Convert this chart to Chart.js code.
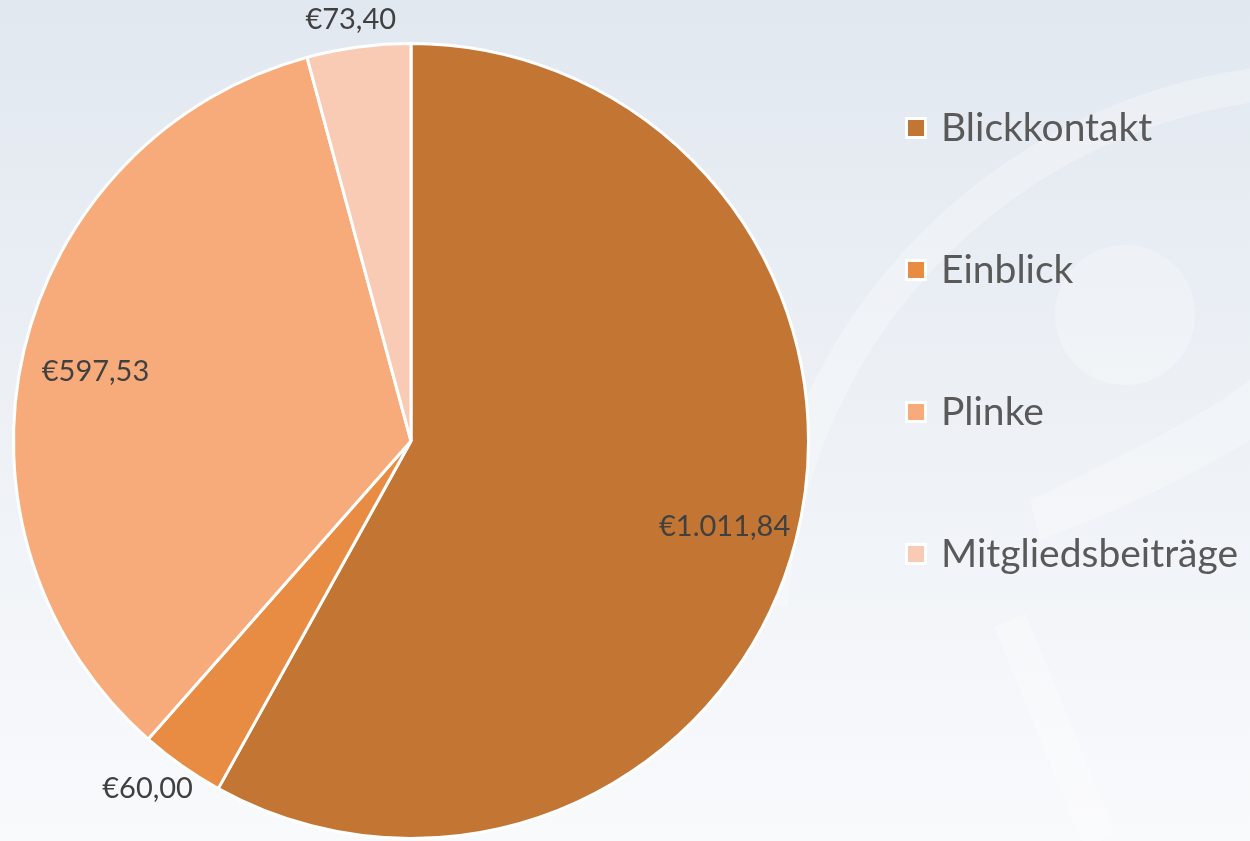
<!DOCTYPE html>
<html><head><meta charset="utf-8">
<script src="https://cdn.jsdelivr.net/npm/chart.js@4.4.1/dist/chart.umd.min.js"></script>
<style>html,body{margin:0;padding:0;background:#fff}#wrap{width:1250px;height:841px;position:relative}canvas{display:block}</style>
</head><body><div id="wrap"><canvas id="c" width="1250" height="841"></canvas></div>
<script>
const categories = ["Blickkontakt", "Einblick", "Plinke", "Mitgliedsbeiträge"];
const amounts = [1011.84, 60.00, 597.53, 73.40];
const valueLabels = ["€1.011,84", "€60,00", "€597,53", "€73,40"];
const sliceColors = ["#C37534", "#E88C43", "#F8AB7A", "#F9CAB4"];
const labelInside = [true, false, true, false];

const bgPlugin = {
  id: 'bg',
  beforeDraw(chart) {
    const ctx = chart.ctx, W = chart.width, H = chart.height;
    ctx.save();
    const g = ctx.createLinearGradient(0, 0, 0, H);
    g.addColorStop(0, '#E2E8F0');
    g.addColorStop(0.5, '#EDF1F6');
    g.addColorStop(1, '#F9FAFC');
    ctx.fillStyle = g;
    ctx.fillRect(0, 0, W, H);
    // faint watermark shapes
    ctx.strokeStyle = 'rgba(255,255,255,0.28)';
    ctx.lineWidth = 34;
    ctx.beginPath();
    ctx.arc(1330, 640, 560, Math.PI * 1.02, Math.PI * 1.62);
    ctx.stroke();
    ctx.beginPath();
    ctx.moveTo(1010, 620); ctx.lineTo(1100, 841);
    ctx.stroke();
    ctx.fillStyle = 'rgba(255,255,255,0.25)';
    ctx.beginPath();
    ctx.arc(1125, 315, 70, 0, Math.PI * 2);
    ctx.fill();
    ctx.beginPath();
    ctx.moveTo(1030, 500); ctx.quadraticCurveTo(1200, 420, 1250, 380);
    ctx.lineTo(1250, 440); ctx.quadraticCurveTo(1150, 500, 1040, 540);
    ctx.closePath(); ctx.fill();
    ctx.restore();
  }
};

const labelPlugin = {
  id: 'labels',
  afterDatasetsDraw(chart) {
    const ctx = chart.ctx;
    const meta = chart.getDatasetMeta(0);
    ctx.save();
    ctx.font = '29px Lato';
    ctx.fillStyle = '#404040';
    ctx.textAlign = 'center';
    ctx.textBaseline = 'middle';
    meta.data.forEach((arc, i) => {
      const p = arc.getProps(['x', 'y', 'startAngle', 'endAngle', 'outerRadius'], true);
      const mid = (p.startAngle + p.endAngle) / 2;
      const dx = Math.cos(mid), dy = Math.sin(mid);
      const txt = valueLabels[i];
      let x, y;
      if (labelInside[i]) {
        x = p.x + dx * p.outerRadius * 0.815;
        y = p.y + dy * p.outerRadius * 0.815 + 4;
      } else {
        const w = ctx.measureText(txt).width, h = 28;
        const r = p.outerRadius + 14;
        x = p.x + dx * r + dx * w / 2;
        y = p.y + dy * r + dy * h / 2;
      }
      ctx.fillText(txt, x, y);
    });
    ctx.restore();
  }
};

const legendPlugin = {
  id: 'customLegend',
  afterDraw(chart) {
    const ctx = chart.ctx, a = chart.chartArea;
    const x0 = a.right + 96;
    const step = 142;
    const cy = (a.top + a.bottom) / 2 - 101;
    const y0 = cy - step * (categories.length - 1) / 2;
    ctx.save();
    ctx.font = '39px Lato';
    ctx.textBaseline = 'middle';
    ctx.textAlign = 'left';
    categories.forEach((c, i) => {
      const y = y0 + i * step;
      ctx.fillStyle = '#FFFFFF';
      ctx.fillRect(x0 - 1, y - 10, 22, 22);
      ctx.fillStyle = sliceColors[i];
      ctx.fillRect(x0 + 2, y - 7, 16, 16);
      ctx.fillStyle = '#595959';
      ctx.fillText(c, x0 + 35, y + 1);
    });
    ctx.restore();
  }
};

new Chart(document.getElementById('c'), {
  type: 'pie',
  data: {
    labels: categories,
    datasets: [{
      data: amounts,
      backgroundColor: sliceColors,
      borderColor: '#FFFFFF',
      borderWidth: 3
    }]
  },
  options: {
    responsive: false,
    animation: false,
    layout: { padding: { left: 12, right: 440, top: 42, bottom: 1 } },
    plugins: { legend: { display: false }, tooltip: { enabled: false } }
  },
  plugins: [bgPlugin, labelPlugin, legendPlugin]
});
</script></body></html>
